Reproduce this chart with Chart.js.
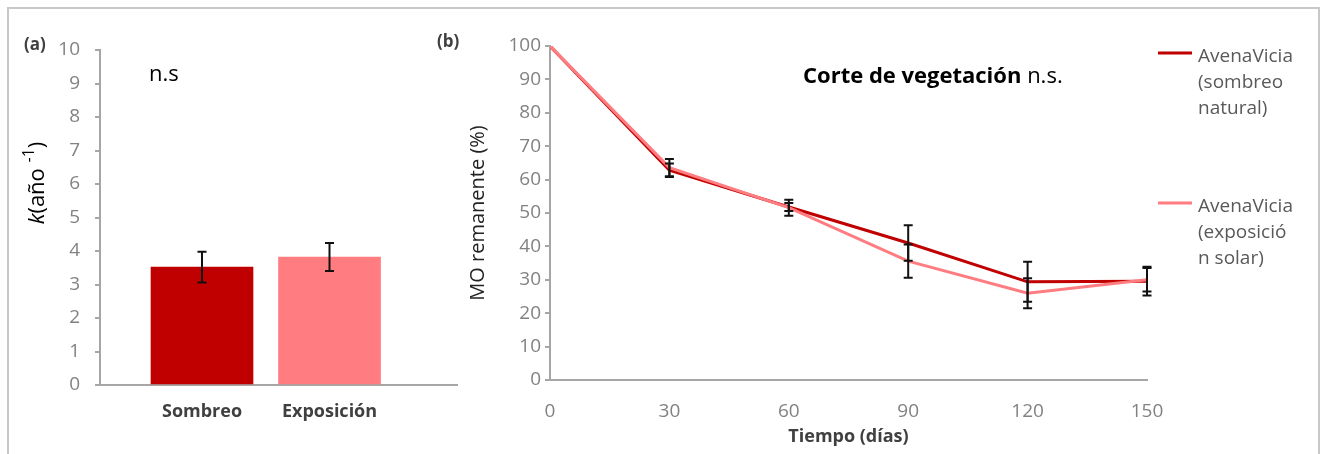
<!DOCTYPE html>
<html>
<head>
<meta charset="utf-8">
<script src="https://cdn.jsdelivr.net/npm/chart.js@4.4.1/dist/chart.umd.min.js"></script>
<style>
  body { margin: 0; background: #fff; overflow: hidden; }
  #frame { position: absolute; left: 7px; top: 7px; width: 1309px; height: 470px; border: 2px solid #c8c8c8; }
  #wrapA { position: absolute; left: 0; top: 0; width: 470px; height: 454px; }
  #wrapB { position: absolute; left: 420px; top: 0; width: 907px; height: 454px; }
</style>
</head>
<body>
<div id="frame"></div>
<div id="wrapA"><canvas id="chartA"></canvas></div>
<div id="wrapB"><canvas id="chartB"></canvas></div>
<script>
// (a) constante de descomposicion
const barCategories = ["Sombreo", "Exposición"]
const barPositions = [1, 2]
const barValues = [3.52, 3.82]
const barErrors = [0.46, 0.42]
const barColors = ["#C00000", "#FF7C80"]

// (b) materia organica remanente
const dayLabels = [0, 30, 60, 90, 120, 150]
const sombreoValues = [100, 62.8, 51.8, 41, 29.4, 29.6]
const sombreoErrors = [0, 2.0, 1.2, 5.3, 6.0, 4.3]
const exposicionValues = [100, 63.6, 51.6, 35.6, 26, 30]
const exposicionErrors = [0, 2.6, 2.4, 5.0, 4.5, 3.5]
const legendLines = [["AvenaVicia", "(sombreo", "natural)"], ["AvenaVicia", "(exposició", "n solar)"]]

Chart.defaults.font.family = "'Open Sans', sans-serif"
Chart.defaults.animation = false

const gray = "#a6a6a6"
const tickGray = "#828282"

const errorBars = {
  id: "errorBars",
  afterDatasetsDraw(chart) {
    const ctx = chart.ctx
    const ys = chart.scales.y
    chart.data.datasets.forEach((ds, i) => {
      if (!ds.errors) return
      const meta = chart.getDatasetMeta(i)
      meta.data.forEach((el, j) => {
        const e = ds.errors[j]
        if (!e) return
        const v = meta.controller.getParsed(j).y
        const x = el.x
        const top = ys.getPixelForValue(v + e)
        const bot = ys.getPixelForValue(v - e)
        ctx.save()
        ctx.strokeStyle = "#111"
        ctx.lineWidth = 2
        ctx.beginPath()
        ctx.moveTo(x, top); ctx.lineTo(x, bot)
        ctx.moveTo(x - 4.5, top); ctx.lineTo(x + 4.5, top)
        ctx.moveTo(x - 4.5, bot); ctx.lineTo(x + 4.5, bot)
        ctx.stroke()
        ctx.restore()
      })
    })
  }
}

const textA = {
  id: "textA",
  afterDraw(chart) {
    const ctx = chart.ctx
    ctx.save()
    ctx.fillStyle = "#404040"
    ctx.font = "bold 17px 'Open Sans'"
    ctx.textBaseline = "middle"
    ctx.fillText("(a)", 24, 45)
    ctx.fillStyle = "#000"
    ctx.font = "22px 'Open Sans'"
    ctx.fillText("n.s", 149, 75)
    // y title k(año -1)
    ctx.translate(38, 183)
    ctx.rotate(-Math.PI / 2)
    const parts = [
      { t: "k", f: "italic 22px 'Open Sans'", dy: 0 },
      { t: "(año ", f: "22px 'Open Sans'", dy: 0 },
      { t: "-1", f: "16px 'Open Sans'", dy: -9 },
      { t: ")", f: "22px 'Open Sans'", dy: 0 }
    ]
    let w = 0
    parts.forEach(p => { ctx.font = p.f; w += ctx.measureText(p.t).width })
    let x = -w / 2
    parts.forEach(p => {
      ctx.font = p.f
      ctx.fillText(p.t, x, p.dy)
      x += ctx.measureText(p.t).width
    })
    ctx.restore()
  }
}

new Chart(document.getElementById("chartA"), {
  type: "bar",
  data: {
    datasets: [{
      data: barPositions.map((p, i) => ({ x: p, y: barValues[i] })),
      errors: barErrors,
      backgroundColor: barColors,
      barThickness: 102
    }]
  },
  options: {
    responsive: true,
    maintainAspectRatio: false,
    layout: { padding: { left: 0, right: 13, top: 50, bottom: 0 } },
    plugins: { legend: { display: false }, tooltip: { enabled: false } },
    scales: {
      x: {
        type: "linear",
        min: 0.2,
        max: 3,
        offset: false,
        afterBuildTicks: s => { s.ticks = barPositions.map(v => ({ value: v })) },
        afterFit: s => { s.height = 69 },
        grid: { display: false, drawTicks: false, offset: false },
        border: { display: true, color: gray, width: 2 },
        ticks: {
          padding: 16,
          color: "#404040",
          font: { size: 18, weight: "bold" },
          callback: v => barCategories[barPositions.indexOf(v)]
        }
      },
      y: {
        min: 0,
        max: 10,
        afterFit: s => { s.width = 100 },
        grid: { drawOnChartArea: false, drawTicks: true, tickLength: 5, color: gray, lineWidth: 2 },
        border: { display: true, color: gray, width: 2 },
        ticks: { stepSize: 1, padding: 15, color: tickGray, font: { size: 19 } }
      }
    }
  },
  plugins: [errorBars, textA]
})

const textB = {
  id: "textB",
  afterDraw(chart) {
    const ctx = chart.ctx
    ctx.save()
    ctx.textBaseline = "middle"
    ctx.fillStyle = "#404040"
    ctx.font = "bold 17px 'Open Sans'"
    ctx.fillText("(b)", 17, 42)
    ctx.fillStyle = "#000"
    ctx.font = "bold 22px 'Open Sans'"
    const t1 = "Corte de vegetación "
    ctx.fillText(t1, 383, 77)
    const w1 = ctx.measureText(t1).width
    ctx.font = "22px 'Open Sans'"
    ctx.fillText("n.s.", 383 + w1, 77)
    // legend
    const legendY = [53, 203]
    chart.data.datasets.forEach((ds, i) => {
      const y = legendY[i]
      ctx.strokeStyle = ds.borderColor
      ctx.lineWidth = 3
      ctx.beginPath()
      ctx.moveTo(738, y); ctx.lineTo(772, y)
      ctx.stroke()
      ctx.fillStyle = "#595959"
      ctx.font = "19px 'Open Sans'"
      legendLines[i].forEach((line, k) => ctx.fillText(line, 778, y + 4 + k * 26))
    })
    ctx.restore()
  }
}

new Chart(document.getElementById("chartB"), {
  type: "line",
  data: {
    datasets: [
      {
        label: legendLines[0].join(" "),
        data: dayLabels.map((d, i) => ({ x: d, y: sombreoValues[i] })),
        errors: sombreoErrors,
        borderColor: "#C00000",
        borderWidth: 3,
        pointRadius: 0,
        tension: 0,
        order: 1
      },
      {
        label: legendLines[1].join(" "),
        data: dayLabels.map((d, i) => ({ x: d, y: exposicionValues[i] })),
        errors: exposicionErrors,
        borderColor: "#FF7C80",
        borderWidth: 3,
        pointRadius: 0,
        tension: 0,
        order: 0
      }
    ]
  },
  options: {
    responsive: true,
    maintainAspectRatio: false,
    layout: { padding: { left: 0, right: 180, top: 46, bottom: 0 } },
    plugins: { legend: { display: false }, tooltip: { enabled: false } },
    scales: {
      x: {
        type: "linear",
        min: 0,
        max: 150,
        afterFit: s => { s.height = 74 },
        grid: { display: false, drawTicks: false },
        border: { display: true, color: gray, width: 2 },
        ticks: { stepSize: 30, padding: 20, color: tickGray, font: { size: 19 } },
        title: {
          display: true,
          text: "Tiempo (días)",
          color: "#404040",
          font: { size: 18, weight: "bold" },
          padding: { top: 0, bottom: 6 }
        }
      },
      y: {
        min: 0,
        max: 100,
        afterFit: s => { s.width = 130 },
        grid: { drawOnChartArea: false, drawTicks: true, tickLength: 5, color: gray, lineWidth: 2 },
        border: { display: true, color: gray, width: 2 },
        ticks: { stepSize: 10, padding: 4, color: tickGray, font: { size: 19 } },
        title: {
          display: true,
          text: "MO remanente (%)",
          color: "#222",
          font: { size: 20 },
          padding: { top: 46, bottom: 0 }
        }
      }
    }
  },
  plugins: [errorBars, textB]
})
</script>
</body>
</html>
